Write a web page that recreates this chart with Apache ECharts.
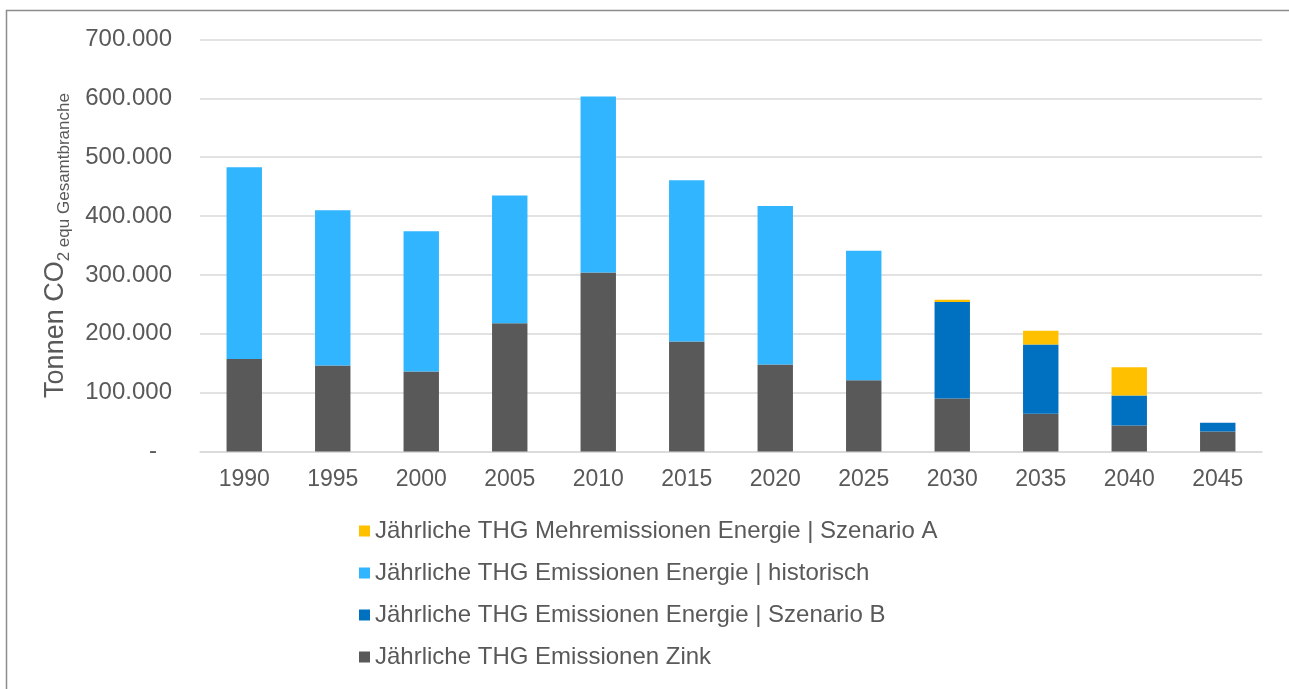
<!DOCTYPE html>
<html>
<head>
<meta charset="utf-8">
<script src="https://cdn.jsdelivr.net/npm/echarts@6/dist/echarts.min.js"></script>
<style>
  html, body { margin: 0; padding: 0; background: #fff; }
  #chart { width: 1289px; height: 689px; }
</style>
</head>
<body>
<div id="chart"></div>
<script>
// Jahre (X-Achse)
const years = ['1990', '1995', '2000', '2005', '2010', '2015', '2020', '2025', '2030', '2035', '2040', '2045'];
// Tonnen CO2 equ
const zink = [157000, 146000, 136000, 218000, 304000, 187000, 148000, 121000, 90000, 64000, 44000, 34000];
const energieHistorisch = [326000, 264000, 238000, 217000, 299000, 274000, 269000, 220000, null, null, null, null];
const energieSzenarioB = [null, null, null, null, null, null, null, null, 164000, 118000, 51000, 15000];
const mehrSzenarioA = [null, null, null, null, null, null, null, null, 4000, 23000, 48000, null];
// Y-Achse
const yTicks = [0, 100000, 200000, 300000, 400000, 500000, 600000, 700000];

const names = [
  'Jährliche THG Mehremissionen Energie | Szenario A',
  'Jährliche THG Emissionen Energie | historisch',
  'Jährliche THG Emissionen Energie | Szenario B',
  'Jährliche THG Emissionen Zink'
];
const FONT = "'Liberation Sans', Arial, sans-serif";
const TXT = '#595959';

function fmt(v) {
  if (v === 0) return '{z|-}';
  return String(v).replace(/\B(?=(\d{3})+(?!\d))/g, '.');
}

function bar(name, data, color) {
  return {
    name: name,
    type: 'bar',
    stack: 'total',
    data: data,
    barWidth: '40%',
    itemStyle: { color: color },
    emphasis: { disabled: true }
  };
}

const chart = echarts.init(document.getElementById('chart'));
chart.setOption({
  animation: false,
  textStyle: { fontFamily: FONT },
  graphic: [{
    type: 'rect',
    shape: { x: 6.5, y: 10.5, width: 1400, height: 800 },
    style: { fill: 'none', stroke: '#8c8c8c', lineWidth: 1.5 },
    silent: true
  }],
  grid: { left: 200, right: 27, top: 39.5, height: 412 },
  legend: {
    orient: 'vertical',
    left: 354,
    top: 514,
    itemWidth: 11,
    itemHeight: 11,
    itemGap: 18,
    icon: 'rect',
    selectedMode: false,
    data: names,
    textStyle: { color: TXT, fontSize: 24, fontFamily: FONT }
  },
  xAxis: {
    type: 'category',
    data: years,
    axisLine: { lineStyle: { color: '#d9d9d9', width: 1.5 } },
    axisTick: { show: false },
    axisLabel: { color: TXT, fontSize: 23, margin: 17, fontFamily: FONT }
  },
  yAxis: {
    type: 'value',
    min: yTicks[0],
    max: yTicks[yTicks.length - 1],
    interval: yTicks[1] - yTicks[0],
    name: '{m|Tonnen CO}{s|2 equ Gesamtbranche}',
    nameLocation: 'middle',
    nameRotate: 90,
    nameGap: 127,
    nameTextStyle: {
      color: TXT,
      rich: {
        m: { fontSize: 27, lineHeight: 34, color: TXT, fontFamily: FONT, verticalAlign: 'middle' },
        s: { fontSize: 17, lineHeight: 17, color: TXT, fontFamily: FONT, verticalAlign: 'bottom' }
      }
    },
    axisLine: { show: false },
    axisTick: { show: false },
    splitLine: { lineStyle: { color: '#d9d9d9', width: 1.5 } },
    axisLabel: {
      color: TXT,
      fontSize: 24,
      margin: 28,
      fontFamily: FONT,
      formatter: fmt,
      rich: { z: { fontSize: 24, color: TXT, fontFamily: FONT, padding: [0, 15, 0, 0] } }
    }
  },
  series: [
    bar(names[3], zink, '#595959'),
    bar(names[1], energieHistorisch, '#31b5ff'),
    bar(names[2], energieSzenarioB, '#0070c0'),
    bar(names[0], mehrSzenarioA, '#ffc000')
  ]
});
</script>
</body>
</html>
